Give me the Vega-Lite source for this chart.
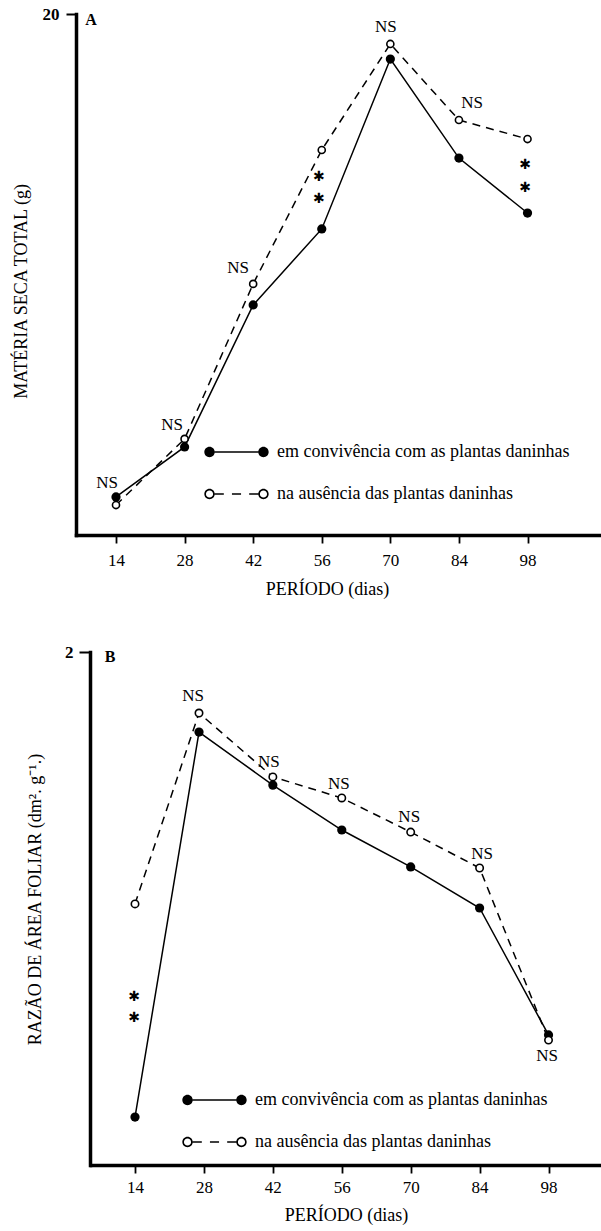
{
  "$schema": "https://vega.github.io/schema/vega-lite/v6.json",
  "width": 525,
  "height": 1151,
  "autosize": {"type": "none"},
  "padding": {"left": 76, "top": 14, "right": 0, "bottom": 66},
  "background": "white",
  "config": {"view": {"stroke": null}, "font": "Liberation Serif"},
  "datasets": {
    "pts": [
      {"panel": "A", "series": "conv", "period": 14, "value": 1.46},
      {"panel": "A", "series": "conv", "period": 28, "value": 3.38},
      {"panel": "A", "series": "conv", "period": 42, "value": 8.83},
      {"panel": "A", "series": "conv", "period": 56, "value": 11.75},
      {"panel": "A", "series": "conv", "period": 70, "value": 18.27},
      {"panel": "A", "series": "conv", "period": 84, "value": 14.47},
      {"panel": "A", "series": "conv", "period": 98, "value": 12.36},
      {"panel": "A", "series": "aus", "period": 14, "value": 1.15},
      {"panel": "A", "series": "aus", "period": 28, "value": 3.69},
      {"panel": "A", "series": "aus", "period": 42, "value": 9.64},
      {"panel": "A", "series": "aus", "period": 56, "value": 14.78},
      {"panel": "A", "series": "aus", "period": 70, "value": 18.85},
      {"panel": "A", "series": "aus", "period": 84, "value": 15.93},
      {"panel": "A", "series": "aus", "period": 98, "value": 15.2},
      {"panel": "B", "series": "conv", "period": 14, "value": 0.187},
      {"panel": "B", "series": "conv", "period": 27, "value": 1.688},
      {"panel": "B", "series": "conv", "period": 42, "value": 1.481},
      {"panel": "B", "series": "conv", "period": 56, "value": 1.306},
      {"panel": "B", "series": "conv", "period": 70, "value": 1.162},
      {"panel": "B", "series": "conv", "period": 84, "value": 1.002},
      {"panel": "B", "series": "conv", "period": 98, "value": 0.507},
      {"panel": "B", "series": "aus", "period": 14, "value": 1.018},
      {"panel": "B", "series": "aus", "period": 27, "value": 1.762},
      {"panel": "B", "series": "aus", "period": 42, "value": 1.513},
      {"panel": "B", "series": "aus", "period": 56, "value": 1.431},
      {"panel": "B", "series": "aus", "period": 70, "value": 1.298},
      {"panel": "B", "series": "aus", "period": 84, "value": 1.158},
      {"panel": "B", "series": "aus", "period": 98, "value": 0.487}
    ],
    "notes": [
      {"panel": "A", "kind": "NS", "period": 12.16, "value": 2.0, "label": "NS"},
      {"panel": "A", "kind": "NS", "period": 25.43, "value": 4.22, "label": "NS"},
      {"panel": "A", "kind": "NS", "period": 38.9, "value": 10.25, "label": "NS"},
      {"panel": "A", "kind": "NS", "period": 69.1, "value": 19.5, "label": "NS"},
      {"panel": "A", "kind": "NS", "period": 86.7, "value": 16.58, "label": "NS"},
      {"panel": "A", "kind": "star", "period": 55.4, "value": 13.74, "label": "✱"},
      {"panel": "A", "kind": "star", "period": 55.4, "value": 12.9, "label": "✱"},
      {"panel": "A", "kind": "star", "period": 97.5, "value": 14.2, "label": "✱"},
      {"panel": "A", "kind": "star", "period": 97.5, "value": 13.32, "label": "✱"},
      {"panel": "A", "kind": "tag", "period": 8.9, "value": 19.77, "label": "A"},
      {"panel": "B", "kind": "NS", "period": 25.8, "value": 1.828, "label": "NS"},
      {"panel": "B", "kind": "NS", "period": 41.2, "value": 1.571, "label": "NS"},
      {"panel": "B", "kind": "NS", "period": 55.4, "value": 1.485, "label": "NS"},
      {"panel": "B", "kind": "NS", "period": 69.7, "value": 1.357, "label": "NS"},
      {"panel": "B", "kind": "NS", "period": 84.5, "value": 1.212, "label": "NS"},
      {"panel": "B", "kind": "NS", "period": 97.7, "value": 0.425, "label": "NS"},
      {"panel": "B", "kind": "star", "period": 13.8, "value": 0.655, "label": "✱"},
      {"panel": "B", "kind": "star", "period": 13.8, "value": 0.573, "label": "✱"},
      {"panel": "B", "kind": "tag", "period": 8.92, "value": 1.981, "label": "B"}
    ],
    "leg": [
      {"lg": "em convivência com as plantas daninhas"},
      {"lg": "na ausência das plantas daninhas"}
    ]
  },
  "layer": [
    {
      "encoding": {
        "x": {"field": "period", "type": "quantitative",
          "scale": {"domain": [5.835, 113.0], "range": [0, 525], "nice": false, "zero": false},
          "axis": {"orient": "bottom", "offset": -630, "values": [14, 28, 42, 56, 70, 84, 98], "title": "PERÍODO (dias)", "titleX": 251, "grid": false, "domainColor": "black", "domainWidth": 3.5, "domainCap": "square", "tickColor": "black", "tickWidth": 1.8, "tickSize": 8, "labelFont": "Liberation Serif", "labelFontSize": 17, "labelColor": "black", "labelPadding": 9, "labelFlush": false, "titleFont": "Liberation Serif", "titleFontSize": 18, "titleFontWeight": "normal", "titleColor": "black", "titlePadding": 12}},
        "y": {"field": "value", "type": "quantitative",
          "scale": {"domain": [0, 20], "range": [521, 0], "nice": false, "zero": false},
          "axis": {"orient": "left", "values": [20], "title": "MATÉRIA SECA TOTAL (g)", "titleY": 277, "grid": false, "domainColor": "black", "domainWidth": 3.5, "domainCap": "square", "tickColor": "black", "tickWidth": 2, "tickSize": 10, "labelFont": "Liberation Serif", "labelFontSize": 17, "labelFontWeight": "bold", "labelColor": "black", "labelPadding": 7, "titleFont": "Liberation Serif", "titleFontSize": 18, "titleFontWeight": "normal", "titleColor": "black", "titlePadding": 12}}
      },
      "layer": [
        {"data": {"name": "pts"}, "transform": [{"filter": "datum.panel === 'A' && datum.series === 'conv'"}],
          "mark": {"type": "line", "color": "black", "strokeWidth": 1.5}},
        {"data": {"name": "pts"}, "transform": [{"filter": "datum.panel === 'A' && datum.series === 'aus'"}],
          "mark": {"type": "line", "color": "black", "strokeWidth": 1.5, "strokeDash": [8, 6]}},
        {"data": {"name": "pts"}, "transform": [{"filter": "datum.panel === 'A' && datum.series === 'conv'"}],
          "mark": {"type": "point", "shape": "circle", "filled": true, "color": "black", "size": 85, "opacity": 1}},
        {"data": {"name": "pts"}, "transform": [{"filter": "datum.panel === 'A' && datum.series === 'aus'"}],
          "mark": {"type": "point", "shape": "circle", "filled": true, "fill": "white", "stroke": "black", "strokeWidth": 1.6, "size": 50, "opacity": 1}},
        {"data": {"name": "notes"}, "transform": [{"filter": "datum.panel === 'A' && datum.kind === 'NS'"}],
          "mark": {"type": "text", "font": "Liberation Serif", "fontSize": 17, "color": "black", "align": "center", "baseline": "middle"},
          "encoding": {"text": {"field": "label"}}},
        {"data": {"name": "notes"}, "transform": [{"filter": "datum.panel === 'A' && datum.kind === 'star'"}],
          "mark": {"type": "text", "font": "DejaVu Sans", "fontSize": 14, "color": "black", "align": "center", "baseline": "middle"},
          "encoding": {"text": {"field": "label"}}},
        {"data": {"name": "notes"}, "transform": [{"filter": "datum.panel === 'A' && datum.kind === 'tag'"}],
          "mark": {"type": "text", "font": "Liberation Serif", "fontSize": 16, "fontWeight": "bold", "color": "black", "align": "center", "baseline": "middle"},
          "encoding": {"text": {"field": "label"}}},
        {"data": {"name": "leg"}, "transform": [{"filter": "false"}],
          "mark": {"type": "point", "filled": true, "color": "black", "strokeWidth": 0, "opacity": 1},
          "encoding": {"shape": {"field": "lg", "type": "nominal",
            "scale": {"domain": ["em convivência com as plantas daninhas", "na ausência das plantas daninhas"],
              "range": ["M-0.99,0A0.16,0.16,0,1,0,-0.67,0A0.16,0.16,0,1,0,-0.99,0Z M0.67,0A0.16,0.16,0,1,0,0.99,0A0.16,0.16,0,1,0,0.67,0Z M-0.67,-0.022H0.67V0.022H-0.67Z",
                "M-0.99,0A0.16,0.16,0,1,0,-0.67,0A0.16,0.16,0,1,0,-0.99,0Z M-0.94,0A0.11,0.11,0,1,1,-0.72,0A0.11,0.11,0,1,1,-0.94,0Z M0.67,0A0.16,0.16,0,1,0,0.99,0A0.16,0.16,0,1,0,0.67,0Z M0.72,0A0.11,0.11,0,1,1,0.94,0A0.11,0.11,0,1,1,0.72,0Z M-0.67,-0.022H-0.39V0.022H-0.67Z M-0.14,-0.022H0.14V0.022H-0.14Z M0.39,-0.022H0.67V0.022H0.39Z"]},
            "legend": {"orient": "none", "legendX": 128, "legendY": 405.5, "direction": "vertical", "title": null, "padding": 0, "symbolSize": 4225, "symbolStrokeWidth": 0, "symbolFillColor": "black", "symbolOpacity": 1, "symbolOffset": 0, "labelFont": "Liberation Serif", "labelFontSize": 18, "labelColor": "black", "labelOffset": 8, "labelLimit": 0, "rowPadding": -4}}}}
      ]
    },
    {
      "encoding": {
        "x": {"field": "period", "type": "quantitative",
          "scale": {"domain": [5.06, 108.66], "range": [15, 525], "nice": false, "zero": false},
          "axis": {"orient": "bottom", "offset": 0, "values": [14, 28, 42, 56, 70, 84, 98], "title": "PERÍODO (dias)", "grid": false, "domainColor": "black", "domainWidth": 3.5, "domainCap": "square", "tickColor": "black", "tickWidth": 1.8, "tickSize": 8, "labelFont": "Liberation Serif", "labelFontSize": 17, "labelColor": "black", "labelPadding": 6, "labelFlush": false, "titleFont": "Liberation Serif", "titleFontSize": 18, "titleFontWeight": "normal", "titleColor": "black", "titlePadding": 11}},
        "y": {"field": "value", "type": "quantitative",
          "scale": {"domain": [0, 2], "range": [1151, 638], "nice": false, "zero": false},
          "axis": {"orient": "left", "offset": -14, "values": [2], "title": "RAZÃO DE ÁREA FOLIAR (dm². g⁻¹.)", "titleY": 885, "grid": false, "domainColor": "black", "domainWidth": 3.5, "domainCap": "square", "tickColor": "black", "tickWidth": 2, "tickSize": 11, "labelFont": "Liberation Serif", "labelFontSize": 17, "labelFontWeight": "bold", "labelColor": "black", "labelPadding": 6, "titleFont": "Liberation Serif", "titleFontSize": 18, "titleFontWeight": "normal", "titleColor": "black", "titlePadding": 20}}
      },
      "layer": [
        {"data": {"name": "pts"}, "transform": [{"filter": "datum.panel === 'B' && datum.series === 'conv'"}],
          "mark": {"type": "line", "color": "black", "strokeWidth": 1.5}},
        {"data": {"name": "pts"}, "transform": [{"filter": "datum.panel === 'B' && datum.series === 'aus'"}],
          "mark": {"type": "line", "color": "black", "strokeWidth": 1.5, "strokeDash": [8, 6]}},
        {"data": {"name": "pts"}, "transform": [{"filter": "datum.panel === 'B' && datum.series === 'conv'"}],
          "mark": {"type": "point", "shape": "circle", "filled": true, "color": "black", "size": 85, "opacity": 1}},
        {"data": {"name": "pts"}, "transform": [{"filter": "datum.panel === 'B' && datum.series === 'aus'"}],
          "mark": {"type": "point", "shape": "circle", "filled": true, "fill": "white", "stroke": "black", "strokeWidth": 1.6, "size": 55, "opacity": 1}},
        {"data": {"name": "notes"}, "transform": [{"filter": "datum.panel === 'B' && datum.kind === 'NS'"}],
          "mark": {"type": "text", "font": "Liberation Serif", "fontSize": 17, "color": "black", "align": "center", "baseline": "middle"},
          "encoding": {"text": {"field": "label"}}},
        {"data": {"name": "notes"}, "transform": [{"filter": "datum.panel === 'B' && datum.kind === 'star'"}],
          "mark": {"type": "text", "font": "DejaVu Sans", "fontSize": 14, "color": "black", "align": "center", "baseline": "middle"},
          "encoding": {"text": {"field": "label"}}},
        {"data": {"name": "notes"}, "transform": [{"filter": "datum.panel === 'B' && datum.kind === 'tag'"}],
          "mark": {"type": "text", "font": "Liberation Serif", "fontSize": 16, "fontWeight": "bold", "color": "black", "align": "center", "baseline": "middle"},
          "encoding": {"text": {"field": "label"}}},
        {"data": {"name": "leg"}, "transform": [{"filter": "false"}],
          "mark": {"type": "point", "filled": true, "color": "black", "strokeWidth": 0, "opacity": 1},
          "encoding": {"shape": {"field": "lg", "type": "nominal",
            "scale": {"domain": ["em convivência com as plantas daninhas", "na ausência das plantas daninhas"],
              "range": ["M-0.99,0A0.16,0.16,0,1,0,-0.67,0A0.16,0.16,0,1,0,-0.99,0Z M0.67,0A0.16,0.16,0,1,0,0.99,0A0.16,0.16,0,1,0,0.67,0Z M-0.67,-0.022H0.67V0.022H-0.67Z",
                "M-0.99,0A0.16,0.16,0,1,0,-0.67,0A0.16,0.16,0,1,0,-0.99,0Z M-0.94,0A0.11,0.11,0,1,1,-0.72,0A0.11,0.11,0,1,1,-0.94,0Z M0.67,0A0.16,0.16,0,1,0,0.99,0A0.16,0.16,0,1,0,0.67,0Z M0.72,0A0.11,0.11,0,1,1,0.94,0A0.11,0.11,0,1,1,0.72,0Z M-0.67,-0.022H-0.39V0.022H-0.67Z M-0.14,-0.022H0.14V0.022H-0.14Z M0.39,-0.022H0.67V0.022H0.39Z"]},
            "legend": {"orient": "none", "legendX": 106, "legendY": 1053.5, "direction": "vertical", "title": null, "padding": 0, "symbolSize": 4225, "symbolStrokeWidth": 0, "symbolFillColor": "black", "symbolOpacity": 1, "symbolOffset": 0, "labelFont": "Liberation Serif", "labelFontSize": 18, "labelColor": "black", "labelOffset": 8, "labelLimit": 0, "rowPadding": -5}}}}
      ]
    }
  ],
  "resolve": {
    "scale": {"x": "independent", "y": "independent", "shape": "independent"},
    "axis": {"x": "independent", "y": "independent"},
    "legend": {"shape": "independent"}
  }
}
